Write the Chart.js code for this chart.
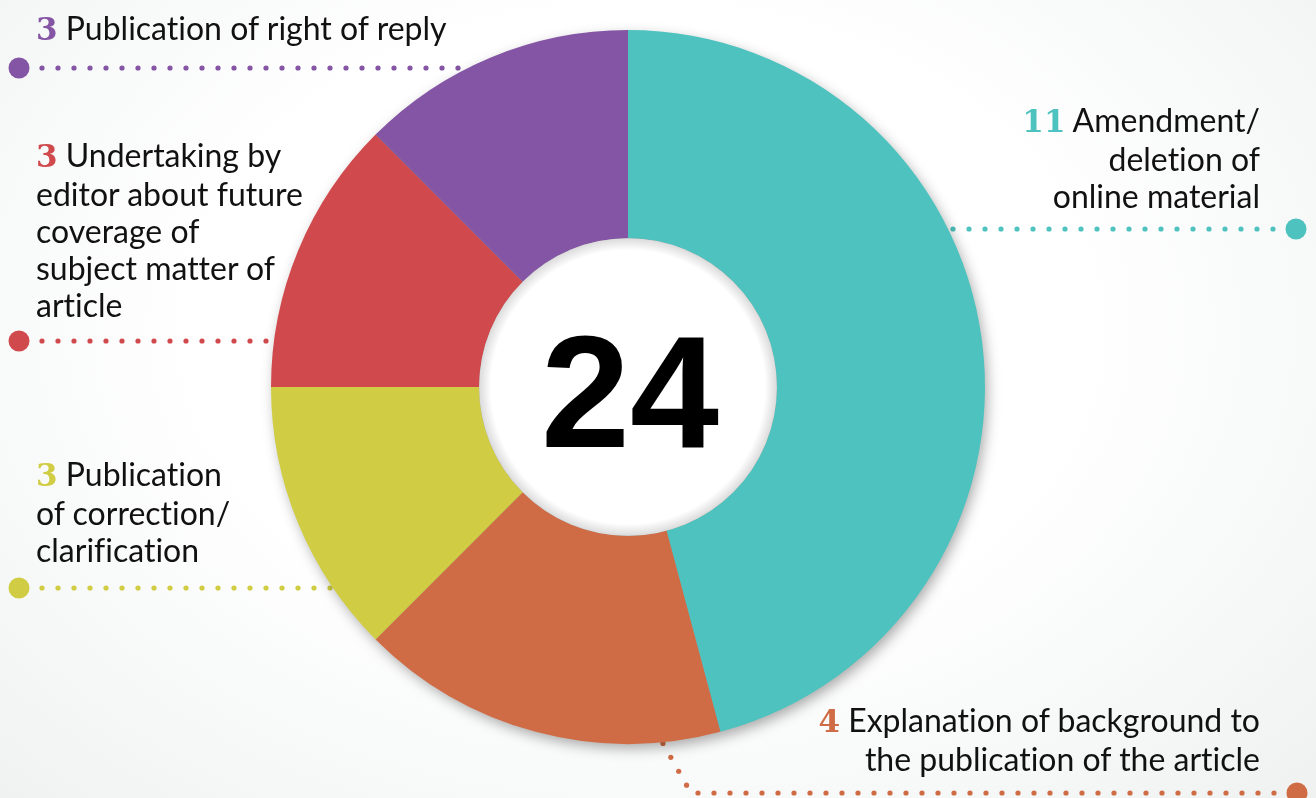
<!DOCTYPE html>
<html lang="en">
<head>
    <meta charset="UTF-8">
    <title>Remedies agreed</title>
    <script src="https://cdn.jsdelivr.net/npm/chart.js"></script>
    <style>
        html, body { margin: 0; padding: 0; width: 1316px; height: 798px; overflow: hidden; }
        body { background: radial-gradient(ellipse 980px 700px at 640px 330px, #ffffff 45%, #eef0f0 100%); font-family: Lato, "Noto Sans", sans-serif; }
        #wrap { position: relative; width: 1316px; height: 798px; }
        canvas { position: absolute; left: 0; top: 0; }
        .lbl { position: absolute; font-size: 32px; line-height: 37px; color: #111; white-space: nowrap; font-variant-ligatures: none; }
        .lbl.right { text-align: right; }
        .num { font-family: "DejaVu Serif", serif; font-weight: bold; font-size: 31px; }
        #total { position: absolute; width: 400px; text-align: center; font: bold 160px/160px "Liberation Sans", Arial, sans-serif; color: #000; }
    </style>
</head>
<body>
<div id="wrap">
    <canvas id="chart" width="1316" height="798"></canvas>
    <div id="total"></div>
</div>
<script>
    // data, clockwise from 12 o'clock
    const categories = [
        "Amendment/ deletion of online material",
        "Explanation of background to the publication of the article",
        "Publication of correction/ clarification",
        "Undertaking by editor about future coverage of subject matter of article",
        "Publication of right of reply"
    ];
    const counts = [11, 4, 3, 3, 3];
    const colours = ["#4ec2be", "#d06c45", "#d0cd44", "#d04a4d", "#8455a4"];
    // label text as broken in the picture
    const labelLines = [
        ["Amendment/", "deletion of", "online material"],
        ["Explanation of background to", "the publication of the article"],
        ["Publication", "of correction/", "clarification"],
        ["Undertaking by", "editor about future", "coverage of", "subject matter of", "article"],
        ["Publication of right of reply"]
    ];
    // where each label sits: side and top of first line
    const labelSpots = [
        { side: "right", x: 56, top: 101 },
        { side: "right", x: 56, top: 701 },
        { side: "left", x: 36, top: 455 },
        { side: "left", x: 36, top: 136 },
        { side: "left", x: 36, top: 9 }
    ];

    const total = counts.reduce((a, b) => a + b, 0);
    const wrap = document.getElementById("wrap");

    labelLines.forEach((lines, i) => {
        const d = document.createElement("div");
        const s = labelSpots[i];
        d.className = "lbl" + (s.side === "right" ? " right" : "");
        d.style.top = s.top + "px";
        d.style[s.side] = s.x + "px";
        d.innerHTML = '<span class="num" style="color:' + colours[i] + '">' + counts[i] + '</span> ' + lines.join("<br>");
        wrap.appendChild(d);
    });

    // dotted leader lines, from the big dot towards the ring
    function leaderPaths(cx, cy) {
        return [
            { seg: 0, pts: [[1296, 229], [cx, 229]] },
            { seg: 1, pts: [[1297, 793], [691, 793], [cx + 20, cy + 330]] },
            { seg: 2, pts: [[19, 588], [cx, 588]] },
            { seg: 3, pts: [[19, 341], [cx, 341]] },
            { seg: 4, pts: [[19, 68], [cx, 68]] }
        ];
    }

    function dotsAlong(ctx, pts, startGap, step, r) {
        let carry = startGap;
        for (let k = 0; k < pts.length - 1; k++) {
            const [x0, y0] = pts[k], [x1, y1] = pts[k + 1];
            const len = Math.hypot(x1 - x0, y1 - y0);
            let t = carry;
            while (t <= len) {
                ctx.beginPath();
                ctx.arc(x0 + (x1 - x0) * t / len, y0 + (y1 - y0) * t / len, r, 0, Math.PI * 2);
                ctx.fill();
                t += step;
            }
            carry = t - len;
        }
    }

    const decor = {
        id: "decor",
        beforeDatasetsDraw(chart) {
            const ctx = chart.ctx;
            const a = chart.getDatasetMeta(0).data[0];
            const cx = a.x, cy = a.y, r = a.outerRadius;
            leaderPaths(cx, cy).forEach(l => {
                ctx.fillStyle = colours[l.seg];
                ctx.beginPath();
                ctx.arc(l.pts[0][0], l.pts[0][1], 10.5, 0, Math.PI * 2);
                ctx.fill();
                dotsAlong(ctx, l.pts, 23, 16, 2.6);
            });
            // soft drop shadow under the ring
            ctx.save();
            ctx.shadowColor = "rgba(0,0,0,0.35)";
            ctx.shadowBlur = 14;
            ctx.shadowOffsetX = 3;
            ctx.shadowOffsetY = 5;
            ctx.beginPath();
            ctx.arc(cx, cy, r - 1, 0, Math.PI * 2);
            ctx.fillStyle = "#999";
            ctx.fill();
            ctx.restore();
        },
        afterDatasetsDraw(chart) {
            const ctx = chart.ctx;
            const a = chart.getDatasetMeta(0).data[0];
            const cx = a.x, cy = a.y, ir = a.innerRadius;
            ctx.save();
            ctx.beginPath();
            ctx.arc(cx, cy, ir, 0, Math.PI * 2);
            ctx.fillStyle = "#fff";
            ctx.fill();
            const g = ctx.createRadialGradient(cx, cy, ir - 12, cx, cy, ir);
            g.addColorStop(0, "rgba(0,0,0,0)");
            g.addColorStop(1, "rgba(0,0,0,0.14)");
            ctx.fillStyle = g;
            ctx.fill();
            ctx.restore();
        }
    };

    const chart = new Chart(document.getElementById("chart"), {
        type: "doughnut",
        data: {
            labels: categories,
            datasets: [{
                data: counts,
                backgroundColor: colours,
                borderWidth: 0,
                hoverOffset: 0
            }]
        },
        options: {
            responsive: false,
            animation: false,
            events: [],
            cutout: "41.7%",
            layout: { padding: { left: 271, top: 30, right: 331, bottom: 54 } },
            plugins: { legend: { display: false }, tooltip: { enabled: false } }
        },
        plugins: [decor]
    });

    // big total in the hole
    const centre = chart.getDatasetMeta(0).data[0];
    const tot = document.getElementById("total");
    tot.textContent = total;
    tot.style.left = (centre.x + 2 - 200) + "px";
    tot.style.top = (centre.y + 60 - 135) + "px";
</script>
</body>
</html>
